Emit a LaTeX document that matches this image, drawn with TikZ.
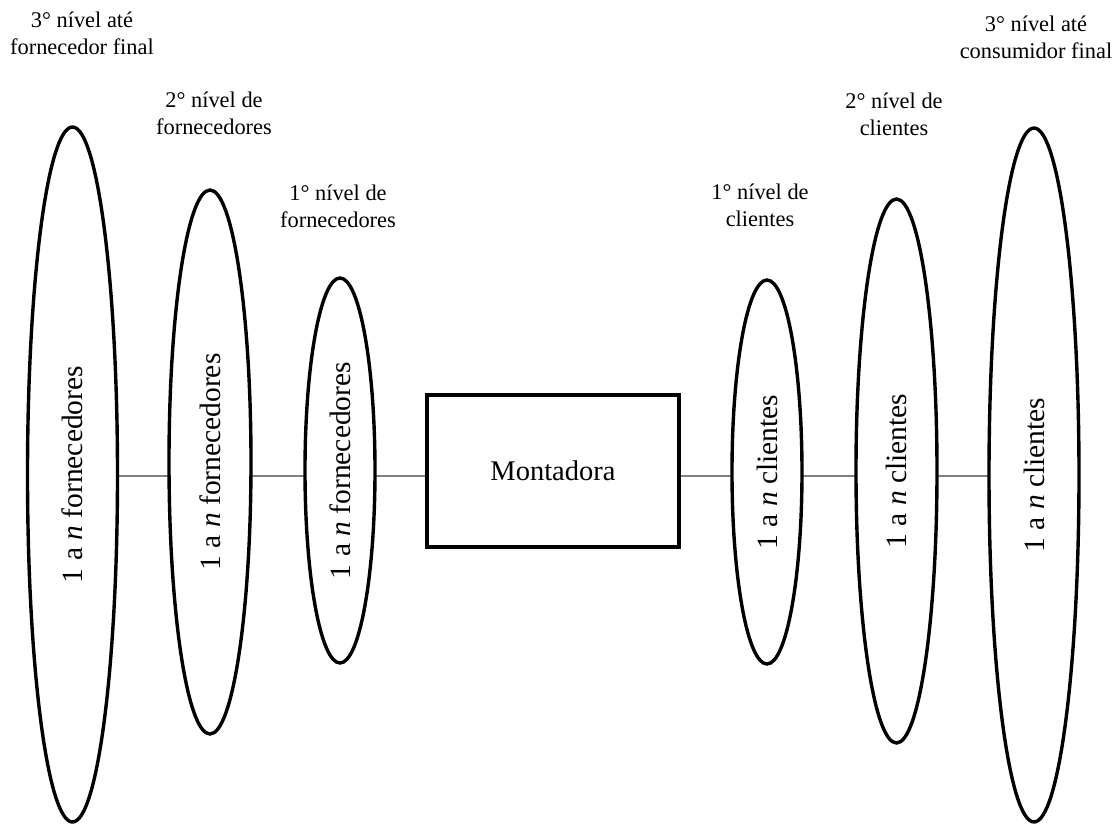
\documentclass[tikz,border=0pt]{standalone}
\usepackage{fontspec}
\setmainfont{Liberation Serif}
\usetikzlibrary{shapes.geometric,backgrounds}
\begin{document}
\begin{tikzpicture}[x=1pt,y=-1pt,
  tier/.style={draw, ellipse, line width=3.4pt, fill=white, inner sep=0pt,
    rotate=90, font=\fontsize{29.5}{35}\selectfont},
  hub/.style={draw, rectangle, line width=3.4pt, fill=white, inner sep=0pt,
    minimum width=252pt, minimum height=152pt, font=\fontsize{28.5}{34}\selectfont},
  caption/.style={align=center, inner sep=0pt, font=\fontsize{22.4}{27}\selectfont},
  link/.style={line width=1.4pt, draw=black!50}]
\useasboundingbox (0,0) rectangle (1112,823);

% supply side
\node[tier, minimum width=695pt, minimum height=90pt] (s3) at (72.5,474.5) {1 a \textit{n} fornecedores};
\node[tier, minimum width=544pt, minimum height=82pt] (s2) at (210,462) {1 a \textit{n} fornecedores};
\node[tier, minimum width=385pt, minimum height=70pt] (s1) at (340,470.5) {1 a \textit{n} fornecedores};

% assembler
\node[hub] (hub) at (553,471) {Montadora};
\coordinate (axis) at (553,476);

% demand side
\node[tier, minimum width=384pt, minimum height=70pt] (c1) at (767,472) {1 a \textit{n} clientes};
\node[tier, minimum width=544pt, minimum height=81pt] (c2) at (896.5,471) {1 a \textit{n} clientes};
\node[tier, minimum width=694pt, minimum height=90pt] (c3) at (1034,475) {1 a \textit{n} clientes};

% level captions
\node[caption] (ls3) at (82,33.5) {3° nível até\\fornecedor final};
\node[caption] (ls2) at (214,113.5) {2° nível de\\fornecedores};
\node[caption] (ls1) at (338,206.5) {1° nível de\\fornecedores};
\node[caption] (lc1) at (760,205) {1° nível de\\clientes};
\node[caption] (lc2) at (894,114) {2° nível de\\clientes};
\node[caption] (lc3) at (1036,37) {3° nível até\\consumidor final};

% chain links, hidden behind the filled shapes
\begin{scope}[on background layer]
  \draw[link] (s3 |- axis) -- (s2 |- axis);
  \draw[link] (s2 |- axis) -- (s1 |- axis);
  \draw[link] (s1 |- axis) -- (hub |- axis);
  \draw[link] (hub |- axis) -- (c1 |- axis);
  \draw[link] (c1 |- axis) -- (c2 |- axis);
  \draw[link] (c2 |- axis) -- (c3 |- axis);
\end{scope}
\end{tikzpicture}
\end{document}
